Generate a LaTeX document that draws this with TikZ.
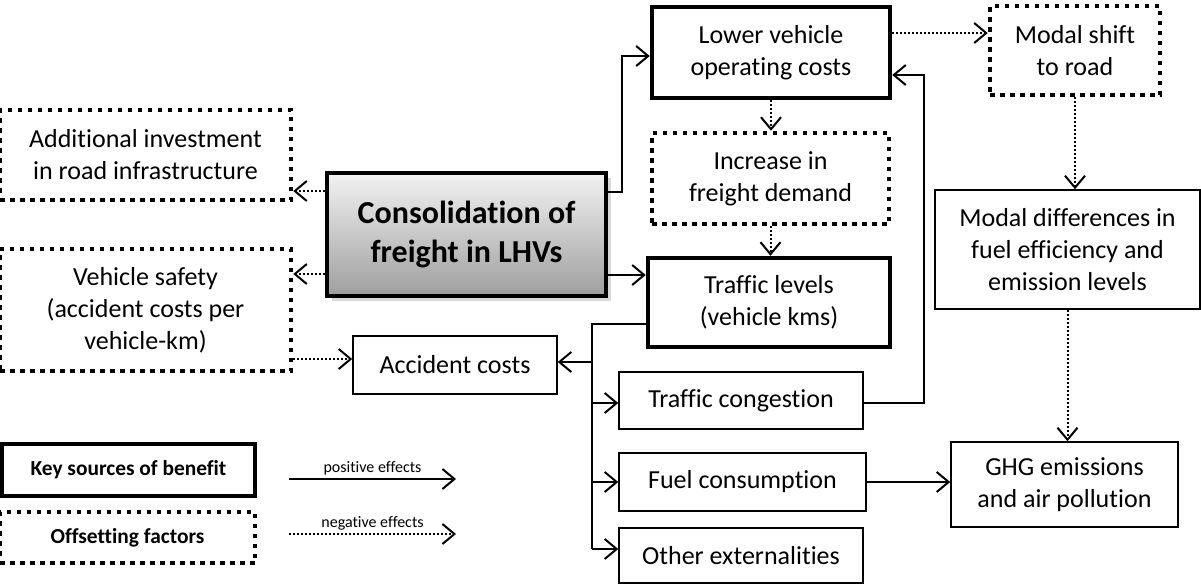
\documentclass[tikz,border=0pt]{standalone}
\usepackage{fontspec}
\setmainfont{Carlito}[Ligatures={NoCommon}]
\usetikzlibrary{arrows.meta,shadows}

\def\thick{2.25pt}
\def\dotw{2.25pt}

\begin{document}
\begin{tikzpicture}[x=0.5pt, y=-0.5pt,
  every node/.style={align=center, inner sep=0pt, font=\fontsize{13}{16}\selectfont},
  sz/.style 2 args={minimum width=#1, minimum height=#2},
  keybox/.style={draw, line width=\thick},
  offbox/.style={draw, line width=\dotw, dash pattern=on 2.25pt off 2.75pt},
  plainbox/.style={draw, line width=0.75pt},
  poseff/.style={-{Straight Barb[length=6pt,width=10pt]}, line width=1pt},
  negeff/.style={poseff, dash pattern=on 1pt off 1pt},
  ]
  \useasboundingbox (0,0) rectangle (1201,585);

  % centre
  \node[keybox, sz={139.5pt}{61.5pt}, top color=black!5, bottom color=black!38,
        drop shadow={opacity=0.3, shadow xshift=2.5pt, shadow yshift=-2.5pt},
        font=\fontsize{16}{19.5}\selectfont\bfseries] (cons) at (466.5,234.5) {Consolidation of\\freight in LHVs};

  % offsetting factors
  \node[offbox, sz={145.5pt}{45pt}] (addinv) at (145.5,155) {Additional investment\\in road infrastructure};
  \node[offbox, sz={145.5pt}{61pt}] (safety) at (145.5,310) {Vehicle safety\\(accident costs per\\vehicle-km)};
  \node[offbox, sz={118.5pt}{45.5pt}] (demand) at (770.5,178.5) {Increase in\\freight demand};
  \node[offbox, sz={85pt}{44.5pt}] (modal) at (1075,50.5) {Modal shift\\to road};

  % key sources of benefit
  \node[keybox, sz={119pt}{45.5pt}] (lower) at (771,52.5) {Lower vehicle\\operating costs};
  \node[keybox, sz={121pt}{44.5pt}] (traffic) at (769,302.5) {Traffic levels\\(vehicle kms)};

  % effects
  \node[plainbox, sz={132.5pt}{59.5pt}] (moddiff) at (1067.5,249.5) {Modal differences in\\fuel efficiency and\\emission levels};
  \node[plainbox, sz={102pt}{29pt}] (acc) at (455,365) {Accident costs};
  \node[plainbox, sz={122pt}{28.5pt}] (cong) at (741,400.5) {Traffic congestion};
  \node[plainbox, sz={123.5pt}{29pt}] (fuel) at (742.5,482) {Fuel consumption};
  \node[plainbox, sz={122pt}{27.5pt}] (other) at (741,555.5) {Other externalities};
  \node[plainbox, sz={113.5pt}{42.5pt}] (ghg) at (1064.5,484.5) {GHG emissions\\and air pollution};

  % connectors
  \draw[negeff] (cons.west |- 0,191) -- (addinv.east |- 0,191);
  \draw[negeff] (cons.west |- 0,274) -- (safety.east |- 0,274);
  \draw[negeff] (safety.east |- 0,359) -- (acc.west |- 0,359);
  \draw[poseff] (cons.east |- 0,192) -- ++(14,0) |- (lower.west |- 0,56);
  \draw[poseff] (cons.east |- 0,275) -- (traffic.west |- 0,275);
  \draw[negeff] (lower.south) -- (demand.north -| lower.south);
  \draw[negeff] (demand.south) -- (traffic.north -| demand.south);
  \draw[negeff] (lower.east |- 0,33) -- (modal.west |- 0,33);
  \draw[negeff] (modal.south) -- (moddiff.north -| modal.south);
  \draw[negeff] (moddiff.south) -- (ghg.north -| moddiff.south);
  \draw[poseff] (fuel.east) -- (fuel.east -| ghg.west);
  \draw[poseff] (cong.east |- 0,403) -- ++(60,0) |- (lower.east |- 0,75);

  % traffic levels feed the externalities
  \coordinate (bus) at (592,324);
  \draw[line width=1pt] (traffic.west |- bus) -- (bus) -- (bus |- 0,549);
  \draw[poseff] (bus |- 0,362) -- (acc.east |- 0,362);
  \foreach \n/\y in {cong/403, fuel/482, other/549}{
    \draw[poseff] (bus |- 0,\y) -- (\n.west |- 0,\y);
  }

  % legend
  \node[keybox, sz={126.5pt}{26pt}, font=\fontsize{10.7}{12}\selectfont\bfseries] (keyb) at (128.5,470) {Key sources of benefit};
  \node[offbox, sz={127.5pt}{25.5pt}, font=\fontsize{10.7}{12}\selectfont\bfseries] (offs) at (127.5,537.5) {Offsetting factors};
  \coordinate (p0) at (289,479);
  \coordinate (p1) at (456,479);
  \coordinate (n0) at (289,534);
  \coordinate (n1) at (456,534);
  \draw[poseff] (p0) -- node[above=1.5pt, font=\fontsize{8}{9}\selectfont] {positive effects} (p1);
  \draw[negeff] (n0) -- node[above=1.5pt, font=\fontsize{8}{9}\selectfont] {negative effects} (n1);
\end{tikzpicture}
\end{document}
